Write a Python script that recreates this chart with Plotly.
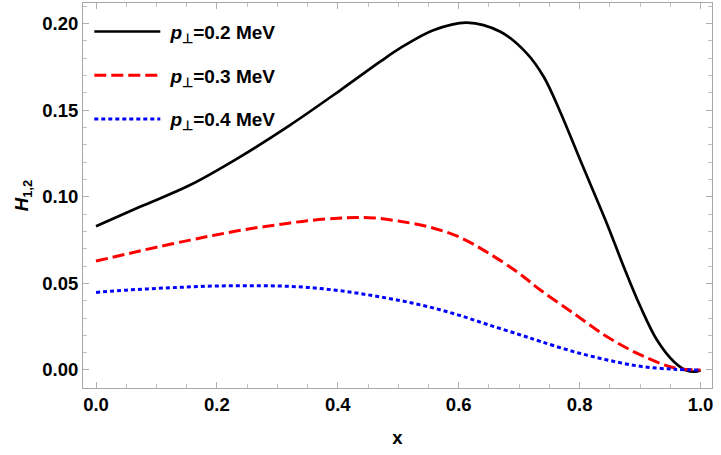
import plotly.graph_objects as go

x_black = [0.0, 0.0728, 0.1556, 0.2384, 0.321, 0.404, 0.470, 0.503, 0.558, 0.6137, 0.669, 0.713,
           0.7406, 0.768, 0.801, 0.8455, 0.873, 0.9007, 0.928, 0.956, 0.978, 0.9945, 1.0]
h_p02 = [0.0830, 0.0942, 0.1068, 0.1231, 0.1414, 0.1615, 0.1780, 0.1858, 0.1962, 0.2006, 0.1953,
         0.1827, 0.1693, 0.1490, 0.1212, 0.0842, 0.0596, 0.0365, 0.0173, 0.0048, -0.0004, -0.0008, 0.0]

x_red = [0.0, 0.05, 0.1, 0.1556, 0.2, 0.25, 0.3, 0.35, 0.4, 0.43, 0.46, 0.5, 0.55, 0.6, 0.65, 0.7,
         0.735, 0.79, 0.8455, 0.9007, 0.956, 1.0]
h_p03 = [0.0629, 0.0669, 0.0709, 0.0750, 0.0781, 0.0813, 0.0838, 0.0862, 0.0876, 0.0880, 0.0878,
         0.0860, 0.0827, 0.0769, 0.0673, 0.0558, 0.0462, 0.0327, 0.0192, 0.0087, 0.0013, 0.0]

x_blue = [0.0, 0.05, 0.1, 0.15, 0.2, 0.25, 0.3, 0.35, 0.4, 0.45, 0.5, 0.55, 0.6, 0.65, 0.7,
          0.735, 0.79, 0.8455, 0.9007, 0.956, 1.0]
h_p04 = [0.0448, 0.0461, 0.0471, 0.0479, 0.0485, 0.0487, 0.0485, 0.0477, 0.0459, 0.0434, 0.0403,
         0.0365, 0.0317, 0.0260, 0.0205, 0.0165, 0.0106, 0.0058, 0.0021, 0.0004, 0.0]

x_ticks = [0, 0.2, 0.4, 0.6, 0.8, 1.0]
x_ticktext = ["0.0", "0.2", "0.4", "0.6", "0.8", "1.0"]
y_ticks = [0, 0.05, 0.1, 0.15, 0.2]
y_ticktext = ["0.00", "0.05", "0.10", "0.15", "0.20"]

labels = ["&nbsp;<b><i>p</i></b><sub><b>⊥</b></sub><b>=0.2 MeV</b>",
          "&nbsp;<b><i>p</i></b><sub><b>⊥</b></sub><b>=0.3 MeV</b>",
          "&nbsp;<b><i>p</i></b><sub><b>⊥</b></sub><b>=0.4 MeV</b>"]

fig = go.Figure()
fig.add_trace(go.Scatter(x=x_black, y=h_p02, mode="lines", name=labels[0], legendgroup="a",
                         line=dict(color="black", width=2.7, shape="spline", smoothing=1.0)))
fig.add_trace(go.Scatter(x=x_red, y=h_p03, mode="lines", name=labels[1], legendgroup="b",
                         line=dict(color="#ff0000", width=3, dash="12px,5px", shape="spline", smoothing=1.0)))
fig.add_trace(go.Scatter(x=x_blue, y=h_p04, mode="lines", name=labels[2], legendgroup="c",
                         line=dict(color="#0000ff", width=3, dash="4px,3px", shape="spline", smoothing=1.0)))

axis_common = dict(
    showgrid=False, zeroline=False, showline=True, linecolor="#a8a8a8", linewidth=1,
    mirror="allticks", ticks="inside", ticklen=6, tickcolor="#b0b0b0", tickwidth=1,
    tickfont=dict(family="Liberation Sans, Arial", size=18.5, color="black", weight="bold"),
)

fig.update_layout(
    width=721, height=455,
    margin=dict(l=83, r=9, t=3, b=67),
    plot_bgcolor="white", paper_bgcolor="white",
    font=dict(family="Liberation Sans, Arial", color="black"),
    xaxis=dict(range=[-0.0215, 1.019], tickvals=x_ticks, ticktext=x_ticktext,
               minor=dict(dtick=0.05, tick0=0, ticks="inside", ticklen=4, tickcolor="#c0c0c0"),
               title=dict(text="<b>x</b>", font=dict(size=18.5), standoff=16),
               **axis_common),
    yaxis=dict(range=[-0.0104, 0.2119], tickvals=y_ticks, ticktext=y_ticktext,
               minor=dict(dtick=0.01, tick0=0, ticks="inside", ticklen=4, tickcolor="#c0c0c0"),
               title=dict(text="<b><i>H</i></b><sub><b>1,2</b></sub>", font=dict(size=18.5), standoff=8),
               **axis_common),
    legend=dict(x=0.01, y=0.975, xanchor="left", yanchor="top", bgcolor="rgba(0,0,0,0)",
                font=dict(size=19, color="black"), traceorder="grouped", tracegroupgap=16,
                itemwidth=66),
    showlegend=True,
)

fig.write_html("out.html")
